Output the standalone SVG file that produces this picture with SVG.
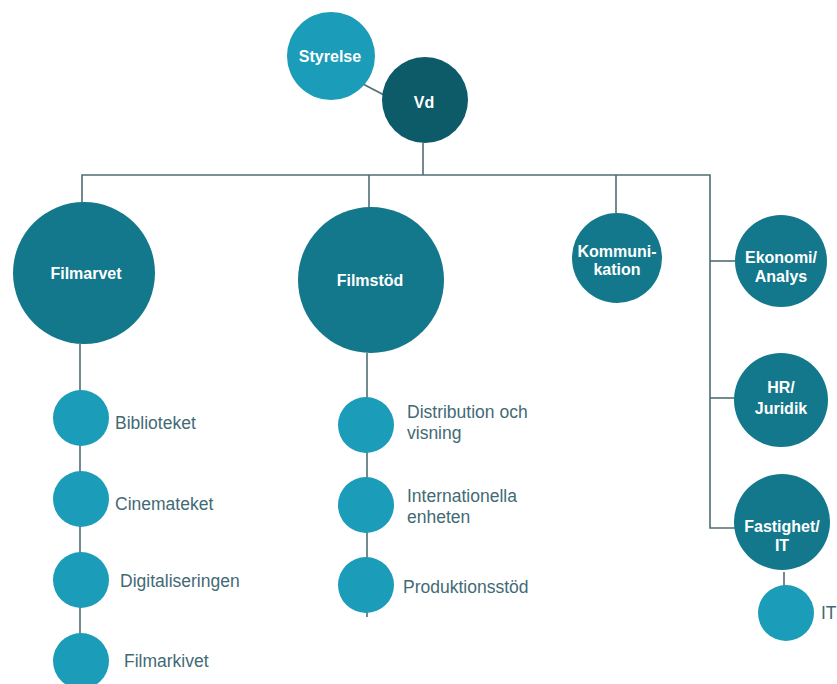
<svg xmlns="http://www.w3.org/2000/svg" width="837" height="684" viewBox="0 0 837 684">
<style>
.bg{fill:#ffffff}
.light{fill:#1b9cb8}
.mid{fill:#13788b}
.dark{fill:#0d5a68}
.ln{stroke:#4f6d74;stroke-width:1.6;fill:none}
.nl{font-family:"Liberation Sans",Arial,sans-serif;font-weight:bold;font-size:16px;fill:#ffffff;text-anchor:middle}
.cl{font-family:"Liberation Sans",Arial,sans-serif;font-size:17.5px;fill:#426a75}
</style>
<rect class="bg" x="0" y="0" width="837" height="684"/>
<g id="connectors">
<line class="ln" x1="363" y1="84" x2="384" y2="95"/>
<line class="ln" x1="423" y1="143" x2="423" y2="175"/>
<polyline class="ln" points="82,202 82,175 710,175 710,528 735,528"/>
<line class="ln" x1="369" y1="175" x2="369" y2="208"/>
<line class="ln" x1="616" y1="175" x2="616" y2="213"/>
<line class="ln" x1="710" y1="261" x2="735" y2="261"/>
<line class="ln" x1="710" y1="398" x2="735" y2="398"/>
<line class="ln" x1="80" y1="344" x2="80" y2="684"/>
<line class="ln" x1="367" y1="353" x2="367" y2="617"/>
<line class="ln" x1="784" y1="572" x2="784" y2="586"/>
</g>
<g id="node-styrelse"><circle class="light" cx="331" cy="56" r="44"/><text class="nl" x="330" y="62">Styrelse</text></g>
<g id="node-vd"><circle class="dark" cx="425" cy="100" r="43"/><text class="nl" x="424" y="108">Vd</text></g>
<g id="node-filmarvet"><circle class="mid" cx="84" cy="273" r="71"/><text class="nl" x="86" y="279">Filmarvet</text></g>
<g id="node-filmstod"><circle class="mid" cx="371" cy="280" r="73"/><text class="nl" x="370" y="286">Filmstöd</text></g>
<g id="node-kommunikation"><circle class="mid" cx="617" cy="258" r="45"/><text class="nl" x="617" y="257">Kommuni-</text><text class="nl" x="617" y="275">kation</text></g>
<g id="node-ekonomi"><circle class="mid" cx="781" cy="261" r="46"/><text class="nl" x="781" y="263">Ekonomi/</text><text class="nl" x="781" y="282">Analys</text></g>
<g id="node-hr"><circle class="mid" cx="781" cy="400" r="47"/><text class="nl" x="781" y="393">HR/</text><text class="nl" x="781" y="414">Juridik</text></g>
<g id="node-fastighet"><circle class="mid" cx="782" cy="522" r="48"/><text class="nl" x="782" y="532">Fastighet/</text><text class="nl" x="782" y="551">IT</text></g>
<g id="node-it"><circle class="light" cx="786" cy="613" r="28"/><text class="cl" x="821" y="619">IT</text></g>
<g id="node-biblioteket"><circle class="light" cx="81" cy="418" r="28"/><text class="cl" x="115" y="429">Biblioteket</text></g>
<g id="node-cinemateket"><circle class="light" cx="81" cy="499" r="28"/><text class="cl" x="115" y="510">Cinemateket</text></g>
<g id="node-digitaliseringen"><circle class="light" cx="81" cy="580" r="28"/><text class="cl" x="120" y="587">Digitaliseringen</text></g>
<g id="node-filmarkivet"><circle class="light" cx="81" cy="661" r="28"/><text class="cl" x="124" y="667">Filmarkivet</text></g>
<g id="node-distribution"><circle class="light" cx="366" cy="425" r="28"/><text class="cl" x="407" y="418">Distribution och</text><text class="cl" x="407" y="439">visning</text></g>
<g id="node-internationella"><circle class="light" cx="366" cy="505" r="28"/><text class="cl" x="407" y="502">Internationella</text><text class="cl" x="407" y="523">enheten</text></g>
<g id="node-produktionsstod"><circle class="light" cx="366" cy="585" r="28"/><text class="cl" x="403" y="593">Produktionsstöd</text></g>
</svg>
